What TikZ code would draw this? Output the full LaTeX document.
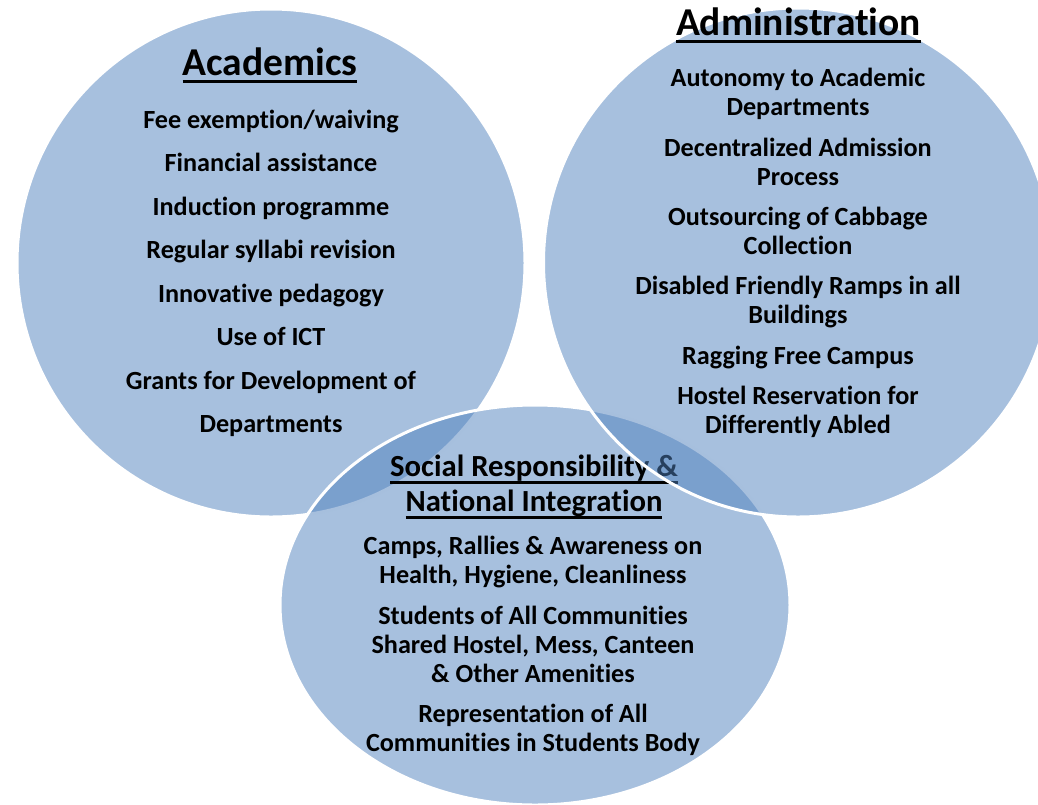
\documentclass[tikz,border=0pt]{standalone}
\usepackage{fontspec}
\setmainfont{Carlito}[Ligatures=NoCommon]
\definecolor{vennblue}{RGB}{79,129,189}

\newcommand\headfont{\fontsize{39.5}{44}\selectfont\bfseries}
\newcommand\subheadfont{\fontsize{30.7}{35}\selectfont\bfseries}
\newcommand\itemfont{\fontsize{26.2}{29}\selectfont\bfseries}
\newcommand\wideitemfont{\fontsize{26.2}{43.5}\selectfont\bfseries}
% underline: 2.5pt rule about 6.5pt below the baseline
\newcommand\underl[1]{\setbox0\hbox{#1}\rlap{\rule[-7.75pt]{\wd0}{2.5pt}}\box0}

\tikzset{
  venn/.style={fill=vennblue, fill opacity=0.5, draw=white, line width=3pt},
  head/.style={inner sep=0pt, outer sep=0pt, anchor=base, font=\headfont},
  itemlist/.style={inner sep=0pt, outer sep=0pt, anchor=north, align=center, font=\itemfont}
}

\begin{document}
\begin{tikzpicture}[x=1pt, y=-1pt]
    \useasboundingbox (0,0) rectangle (1038,804);
    \clip (0,0) rectangle (1038,804);

    % Academics
    \path[venn] (271,263) circle (254pt);
    \node[head] (acadhead) at (270,75) {\underl{Academics}};
    \node[itemlist, font=\wideitemfont] (acadlist) at (271,97.55)
         {\strut Fee exemption/waiving\\
          Financial assistance\\
          Induction programme\\
          Regular syllabi revision\\
          Innovative pedagogy\\
          Use of ICT\\
          Grants for Development of\\
          Departments};

    % Social Responsibility & National Integration
    \path[venn] (535,605) ellipse [x radius=255pt, y radius=200pt];
    \node[head, anchor=north, align=center, font=\subheadfont] (sochead) at (534,451.5)
         {\strut\underl{Social Responsibility \&}\\
          \underl{National Integration}};
    \node[itemlist] (soclist) at (533,534.2)
         {\strut Camps, Rallies \& Awareness on\\
          Health, Hygiene, Cleanliness\\[11.5pt]
          Students of All Communities\\
          Shared Hostel, Mess, Canteen\\
          \& Other Amenities\\[11.5pt]
          Representation of All\\
          Communities in Students Body};

    % Administration (drawn last, over the lower circle)
    \path[venn] (798,262.5) circle (254.5pt);
    \node[head] (adminhead) at (798.5,35) {\underl{Administration}};
    \node[itemlist] (adminlist) at (798,66.2)
         {\strut Autonomy to Academic\\
          Departments\\[11.5pt]
          Decentralized Admission\\
          Process\\[11.5pt]
          Outsourcing of Cabbage\\
          Collection\\[11pt]
          Disabled Friendly Ramps in all\\
          Buildings\\[12pt]
          Ragging Free Campus\\[11pt]
          Hostel Reservation for\\
          Differently Abled};
\end{tikzpicture}
\end{document}
